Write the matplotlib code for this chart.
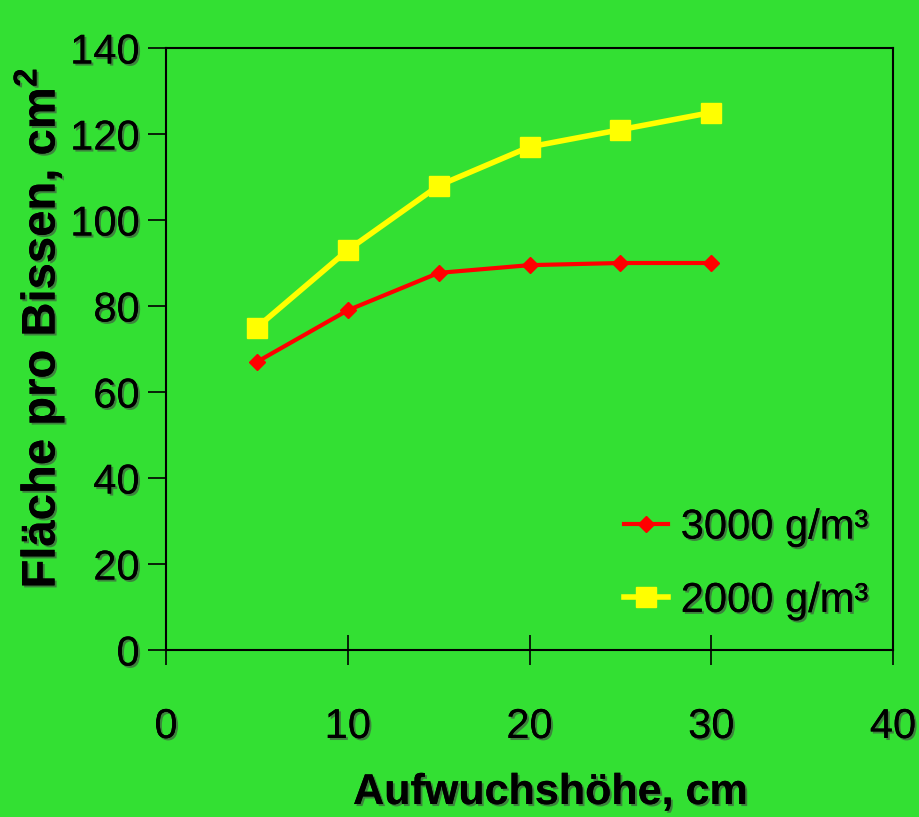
import matplotlib
matplotlib.use("Agg")
import matplotlib.pyplot as plt
import matplotlib.patheffects as pe

x_vals = [5, 10, 15, 20, 25, 30]
series_3000 = [67, 79, 87.7, 89.5, 90, 90]
series_2000 = [75, 93, 108, 117, 121, 125]
labels = ["3000 g/m³", "2000 g/m³"]
x_ticks = [0, 10, 20, 30, 40]
y_ticks = [0, 20, 40, 60, 80, 100, 120, 140]

bg = "#33E033"
plt.rcParams['font.family'] = ['Liberation Sans', 'DejaVu Sans']
plt.rcParams['mathtext.fontset'] = 'custom'
plt.rcParams['mathtext.rm'] = 'Liberation Sans'
plt.rcParams['mathtext.bf'] = 'Liberation Sans:bold'
shadow = [pe.withSimplePatchShadow(offset=(1.5, -1.5), shadow_rgbFace='#444444', alpha=0.6), pe.Normal()]

fig = plt.figure(figsize=(9.19, 8.17), dpi=100, facecolor=bg)
ax = fig.add_axes([166/919, 1-650/817, (893-166)/919, (650-48)/817])
ax.set_facecolor(bg)

ax.plot(x_vals, series_3000, color="#FF0000", lw=3, marker="D", ms=8, label=labels[0], zorder=3)
ax.plot(x_vals, series_2000, color="#FFFF00", lw=4, marker="s", ms=15, label=labels[1], zorder=3)

ax.set_xlim(0, 40)
ax.set_ylim(0, 140)
ax.set_xticks(x_ticks)
ax.set_yticks(y_ticks)
ax.tick_params(axis='y', direction='out', length=13, width=1.2, labelsize=30, pad=6)
ax.tick_params(axis='x', direction='inout', length=22, width=1.2, labelsize=30, pad=30)
for lab in ax.get_xticklabels() + ax.get_yticklabels():
    lab.set_path_effects(shadow)
for s in ax.spines.values():
    s.set_linewidth(1.5)
    s.set_color('black')

fig.text(40/919, 1-328/817, r"Fläche pro Bissen, cm$^{\mathbf{2}}$", rotation=90, fontsize=34,
         fontweight='bold', ha='center', va='center', path_effects=shadow)
fig.text(550/919, 1-793/817, "Aufwuchshöhe, cm", fontsize=31, fontweight='bold',
         ha='center', va='center', path_effects=shadow)

leg = ax.legend(loc='lower right', bbox_to_anchor=(1.006, 0.0), frameon=False, fontsize=30,
                handlelength=1.05, handletextpad=0.3, labelspacing=0.8, borderaxespad=0.3)
for t in leg.get_texts():
    t.set_path_effects(shadow)

fig.savefig("out.png", dpi=100, facecolor=bg)
